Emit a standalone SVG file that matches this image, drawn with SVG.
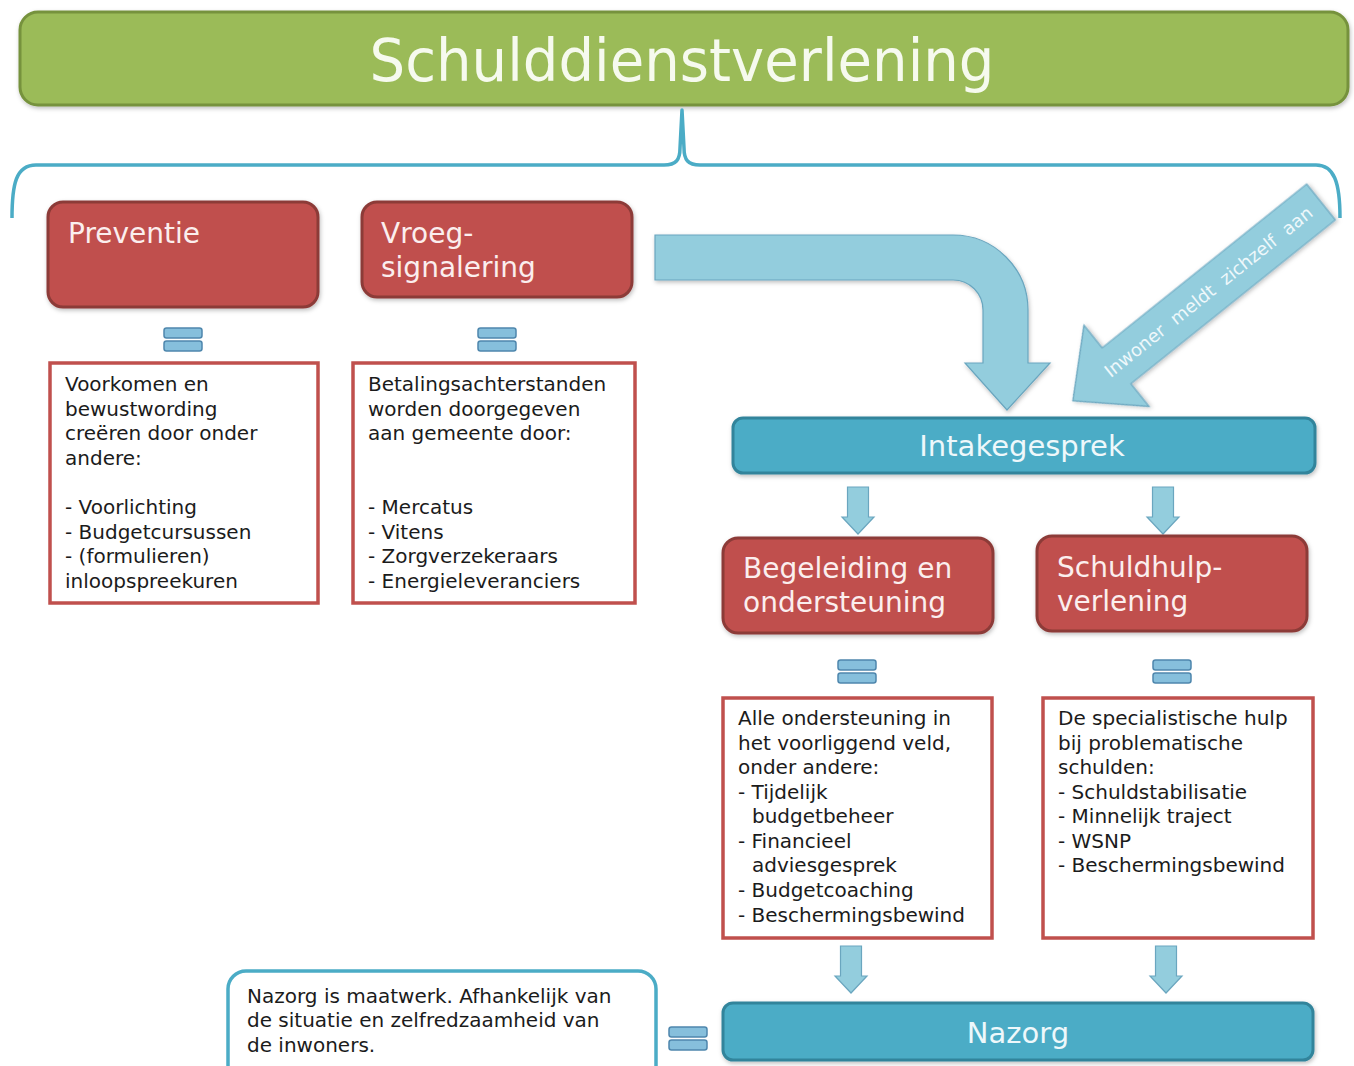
<svg xmlns="http://www.w3.org/2000/svg" width="1354" height="1066" viewBox="0 0 1354 1066">
<style>
.txt{font-family:"DejaVu Sans","Liberation Sans",sans-serif;font-size:20px;fill:#1b1b1b}
.head{font-family:"DejaVu Sans","Liberation Sans",sans-serif;font-size:28px;fill:#fbeeee}
.bar{font-family:"DejaVu Sans","Liberation Sans",sans-serif;font-size:29px;fill:#eef8fb;text-anchor:middle}
.red{fill:#c0504d;stroke:#8c3a37;stroke-width:3}
.box{fill:#ffffff;stroke:#c0504d;stroke-width:3.5}
.teal{fill:#4bacc6;stroke:#31849b;stroke-width:3}
.arr{fill:#93cddd;stroke:#6aa6bf;stroke-width:1.2}
.eq{fill:#86bfdc;stroke:#4f87ad;stroke-width:1.5}
</style>
<defs>
<filter id="sh" x="-10%" y="-10%" width="120%" height="130%">
<feDropShadow dx="1" dy="2" stdDeviation="2" flood-color="#000" flood-opacity="0.25"/>
</filter>
<g id="eqsign">
<rect x="-19" y="-11" width="38" height="10" rx="2.5" class="eq"/>
<rect x="-19" y="2" width="38" height="10" rx="2.5" class="eq"/>
</g>
<path id="smallarrow" d="M-10.5,0 H10.5 V30 H16 L0,47 L-16,30 H-10.5 Z" class="arr"/>
</defs>

<g id="title">
<rect x="20" y="12" width="1328" height="93" rx="18" fill="#9bbb59" stroke="#76923c" stroke-width="3" filter="url(#sh)"/>
<text x="682" y="81" font-family="DejaVu Sans, Liberation Sans, sans-serif" font-size="58" fill="#f6faee" text-anchor="middle" textLength="625" lengthAdjust="spacingAndGlyphs">Schulddienstverlening</text>
</g>

<g id="connectors" fill="none">
<path id="brace" d="M12,218 C12,184 16,165 36,165 H664 C676,165 680,160 680,148 L682,110 L684,148 C684,160 688,165 700,165 H1316 C1334,165 1340,182 1340,218" stroke="#4bacc6" stroke-width="3.5" stroke-linejoin="round"/>
<path id="bent-arrow" d="M655,235 H953 A75,75 0 0 1 1028,310 V363 H1050 L1007,410 L965,363 H983 V310 A30,30 0 0 0 953,280 H655 Z" class="arr" filter="url(#sh)"/>
<g id="diag-arrow" transform="translate(1321,202) rotate(-38.7)">
<path d="M0,-23 H-262 V-52 L-318,0 L-262,52 V23 H0 Z" class="arr" filter="url(#sh)"/>
<text x="-144" y="6" font-family="DejaVu Sans, Liberation Sans, sans-serif" font-size="18" fill="#eef8fb" text-anchor="middle" word-spacing="6">Inwoner meldt zichzelf aan</text>
</g>
<use href="#smallarrow" x="858" y="487"/>
<use href="#smallarrow" x="1163" y="487"/>
<use href="#smallarrow" x="851" y="946"/>
<use href="#smallarrow" x="1166" y="946"/>
<use href="#eqsign" x="183" y="339"/>
<use href="#eqsign" x="497" y="339"/>
<use href="#eqsign" x="857" y="671"/>
<use href="#eqsign" x="1172" y="671"/>
<use href="#eqsign" x="688" y="1038"/>
</g>

<g id="preventie">
<rect x="48" y="202" width="270" height="105" rx="15" class="red" filter="url(#sh)"/>
<text x="68" y="243" class="head">Preventie</text>
</g>

<g id="vroegsignalering">
<rect x="362" y="202" width="270" height="95" rx="15" class="red" filter="url(#sh)"/>
<text x="381" y="243" class="head">Vroeg-</text>
<text x="381" y="277" class="head">signalering</text>
</g>

<g id="preventie-tekst">
<rect x="50" y="363" width="268" height="240" class="box"/>
<text class="txt">
<tspan x="65" y="391">Voorkomen  en</tspan>
<tspan x="65" y="416">bewustwording</tspan>
<tspan x="65" y="440">creëren door onder</tspan>
<tspan x="65" y="465">andere:</tspan>
<tspan x="65" y="514">- Voorlichting</tspan>
<tspan x="65" y="539">- Budgetcursussen</tspan>
<tspan x="65" y="563">- (formulieren)</tspan>
<tspan x="65" y="588">inloopspreekuren</tspan>
</text>
</g>

<g id="vroeg-tekst">
<rect x="353" y="363" width="282" height="240" class="box"/>
<text class="txt">
<tspan x="368" y="391">Betalingsachterstanden</tspan>
<tspan x="368" y="416">worden doorgegeven</tspan>
<tspan x="368" y="440">aan gemeente door:</tspan>
<tspan x="368" y="514">- Mercatus</tspan>
<tspan x="368" y="539">- Vitens</tspan>
<tspan x="368" y="563">- Zorgverzekeraars</tspan>
<tspan x="368" y="588">- Energieleveranciers</tspan>
</text>
</g>

<g id="intakegesprek">
<rect x="733" y="418" width="582" height="55" rx="10" class="teal" filter="url(#sh)"/>
<text x="1022" y="456" class="bar">Intakegesprek</text>
</g>

<g id="begeleiding">
<rect x="723" y="538" width="270" height="95" rx="15" class="red" filter="url(#sh)"/>
<text x="743" y="578" class="head">Begeleiding en</text>
<text x="743" y="612" class="head">ondersteuning</text>
</g>

<g id="schuldhulpverlening">
<rect x="1037" y="536" width="270" height="95" rx="15" class="red" filter="url(#sh)"/>
<text x="1057" y="577" class="head">Schuldhulp-</text>
<text x="1057" y="611" class="head">verlening</text>
</g>

<g id="begeleiding-tekst">
<rect x="723" y="698" width="269" height="240" class="box"/>
<text class="txt">
<tspan x="738" y="725">Alle ondersteuning in</tspan>
<tspan x="738" y="750">het voorliggend veld,</tspan>
<tspan x="738" y="774">onder andere:</tspan>
<tspan x="738" y="799">- Tijdelijk</tspan>
<tspan x="752" y="823">budgetbeheer</tspan>
<tspan x="738" y="848">- Financieel</tspan>
<tspan x="752" y="872">adviesgesprek</tspan>
<tspan x="738" y="897">- Budgetcoaching</tspan>
<tspan x="738" y="922">- Beschermingsbewind</tspan>
</text>
</g>

<g id="schuldhulp-tekst">
<rect x="1043" y="698" width="270" height="240" class="box"/>
<text class="txt">
<tspan x="1058" y="725">De specialistische hulp</tspan>
<tspan x="1058" y="750">bij problematische</tspan>
<tspan x="1058" y="774">schulden:</tspan>
<tspan x="1058" y="799">- Schuldstabilisatie</tspan>
<tspan x="1058" y="823">- Minnelijk traject</tspan>
<tspan x="1058" y="848">- WSNP</tspan>
<tspan x="1058" y="872">- Beschermingsbewind</tspan>
</text>
</g>

<g id="nazorg-tekst">
<rect x="228" y="971" width="428" height="120" rx="18" fill="#ffffff" stroke="#4bacc6" stroke-width="3.5"/>
<text class="txt">
<tspan x="247" y="1003">Nazorg is maatwerk. Afhankelijk van</tspan>
<tspan x="247" y="1027">de situatie en zelfredzaamheid van</tspan>
<tspan x="247" y="1052">de inwoners.</tspan>
</text>
</g>

<g id="nazorg">
<rect x="723" y="1003" width="590" height="57" rx="10" class="teal" filter="url(#sh)"/>
<text x="1018" y="1043" class="bar">Nazorg</text>
</g>
</svg>
